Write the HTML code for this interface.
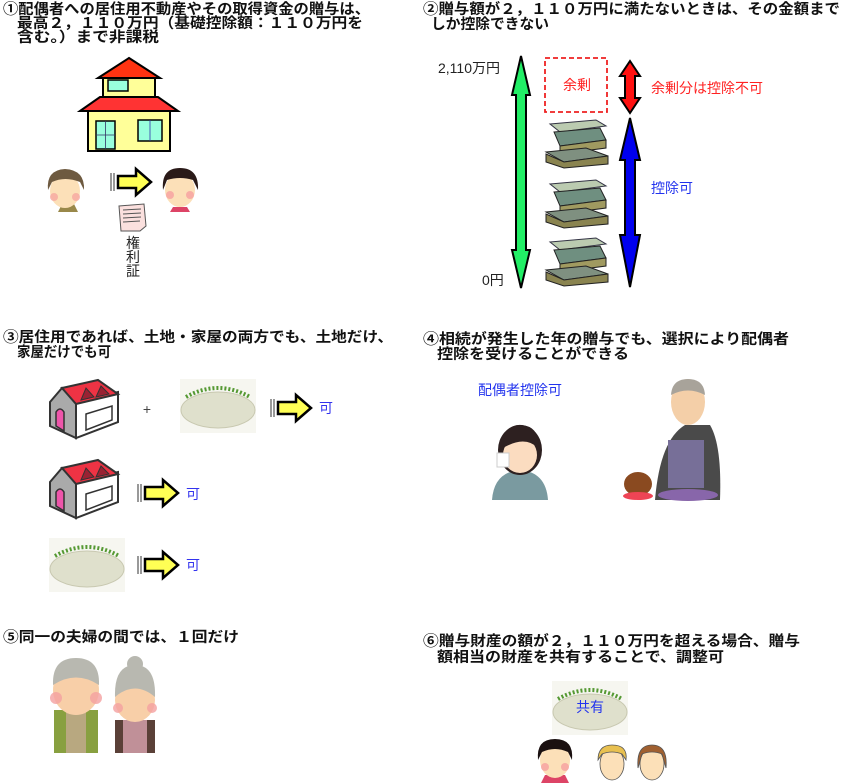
<!DOCTYPE html>
<html><head><meta charset="utf-8"><style>
html,body{margin:0;padding:0;background:#fff;}
svg{display:block;}
.t{font-family:"Liberation Sans","Noto Sans CJK JP",sans-serif;font-weight:bold;font-size:14.5px;fill:#111;}
.n{font-family:"Liberation Sans","Noto Sans CJK JP",sans-serif;font-size:14px;}
</style></head><body>
<svg width="842" height="783" viewBox="0 0 842 783" xmlns="http://www.w3.org/2000/svg">
<defs>
 <g id="arr">
  <line x1="1" y1="4" x2="1" y2="22" stroke="#333" stroke-width="1"/>
  <line x1="4" y1="4" x2="4" y2="22" stroke="#333" stroke-width="1"/>
  <polygon points="8,7 26,7 26,0 41,13 26,26 26,19 8,19" fill="#ffff55" stroke="#000" stroke-width="2.5" stroke-linejoin="miter"/>
 </g>
 <g id="h3">
  <polygon points="2,22 14,8 28,22 28,58 2,46" fill="#aaa" stroke="#333" stroke-width="2"/>
  <path d="M8,46 V32 q4,-6 8,0 V51 Z" fill="#ee55aa" stroke="#333" stroke-width="1.5"/>
  <polygon points="28,22 70,12 70,42 28,58" fill="#fff" stroke="#333" stroke-width="2"/>
  <polygon points="38,34 64,26 64,40 38,50" fill="#fff" stroke="#333" stroke-width="1.5"/>
  <polygon points="14,8 50,0 70,14 28,24" fill="#ee3344" stroke="#333" stroke-width="2"/>
  <polygon points="33,20 38,8 46,17" fill="#992233" stroke="#333" stroke-width="1"/>
  <polygon points="48,17 53,6 61,14" fill="#992233" stroke="#333" stroke-width="1"/>
 </g>
 <g id="land">
  <rect x="0" y="0" width="76" height="54" fill="#f6f6f0"/>
  <ellipse cx="38" cy="31" rx="37" ry="18" fill="#dfe0cc" stroke="#c8c8b0"/>
  <path d="M6,18 Q38,0 70,18" fill="none" stroke="#559933" stroke-width="4" stroke-dasharray="2,2"/>
 </g>
 <g id="money">
  <polygon points="4,6 50,2 60,8 14,14" fill="#bbcbb0" stroke="#334" stroke-width="1"/>
  <polygon points="8,14 54,10 60,22 14,28" fill="#6f8f80" stroke="#222" stroke-width="1"/>
  <polygon points="14,28 60,22 60,30 14,36" fill="#a09a60" stroke="#222" stroke-width="1"/>
  <polygon points="0,34 40,30 62,38 18,44" fill="#7f9080" stroke="#222" stroke-width="1"/>
  <polygon points="0,36 18,44 62,38 62,46 18,50 0,44" fill="#8a8450" stroke="#222" stroke-width="1"/>
 </g>
</defs>

<!-- Titles -->
<text class="t" x="3" y="14" textLength="367" lengthAdjust="spacingAndGlyphs">①配偶者への居住用不動産やその取得資金の贈与は、</text>
<text class="t" x="17" y="28" textLength="346" lengthAdjust="spacingAndGlyphs">最高２，１１０万円（基礎控除額：１１０万円を</text>
<text class="t" x="17" y="42" textLength="142" lengthAdjust="spacingAndGlyphs">含む。）まで非課税</text>

<text class="t" x="423" y="14" textLength="417" lengthAdjust="spacingAndGlyphs">②贈与額が２，１１０万円に満たないときは、その金額まで</text>
<text class="t" x="431" y="29" textLength="118" lengthAdjust="spacingAndGlyphs">しか控除できない</text>

<text class="t" x="3" y="342" textLength="390" lengthAdjust="spacingAndGlyphs">③居住用であれば、土地・家屋の両方でも、土地だけ、</text>
<text class="t" x="17" y="357" textLength="94" lengthAdjust="spacingAndGlyphs">家屋だけでも可</text>

<text class="t" x="423" y="344" textLength="366" lengthAdjust="spacingAndGlyphs">④相続が発生した年の贈与でも、選択により配偶者</text>
<text class="t" x="437" y="359" textLength="192" lengthAdjust="spacingAndGlyphs">控除を受けることができる</text>

<text class="t" x="3" y="642" textLength="236" lengthAdjust="spacingAndGlyphs">⑤同一の夫婦の間では、１回だけ</text>

<text class="t" x="423" y="646" textLength="377" lengthAdjust="spacingAndGlyphs">⑥贈与財産の額が２，１１０万円を超える場合、贈与</text>
<text class="t" x="437" y="662" textLength="287" lengthAdjust="spacingAndGlyphs">額相当の財産を共有することで、調整可</text>

<!-- Section 1 house -->
<polygon points="98,78 129,58 160,78" fill="#ff3311" stroke="#000" stroke-width="2"/>
<rect x="103" y="78" width="52" height="20" fill="#ffff99" stroke="#000" stroke-width="2"/>
<rect x="108" y="80" width="20" height="11" fill="#99ffdd" stroke="#000" stroke-width="1.5"/>
<rect x="88" y="111" width="82" height="40" fill="#ffff99" stroke="#000" stroke-width="2"/>
<polygon points="80,111 100,97 158,97 178,111" fill="#ff3333" stroke="#000" stroke-width="2"/>
<rect x="96" y="121" width="19" height="28" fill="#99ffdd" stroke="#000" stroke-width="1.5"/>
<line x1="105.5" y1="121" x2="105.5" y2="149" stroke="#336" stroke-width="0.8"/>
<line x1="96" y1="135" x2="115" y2="135" stroke="#336" stroke-width="0.8"/>
<rect x="138" y="120" width="24" height="21" fill="#99ffdd" stroke="#000" stroke-width="1.5"/>
<line x1="150" y1="120" x2="150" y2="141" stroke="#33a" stroke-width="0.8"/>

<!-- man face -->
<path d="M58,212 l4,-8 h12 l4,8 Z" fill="#99884a"/>
<ellipse cx="65" cy="191" rx="15" ry="17" fill="#fce0b8"/>
<path d="M48,190 Q46,170 65,169 Q85,170 84,190 L80,182 Q65,176 52,182 Z" fill="#6e5a40"/>
<circle cx="54" cy="197" r="4" fill="#f6a8a0" opacity="0.8"/><circle cx="76" cy="197" r="4" fill="#f6a8a0" opacity="0.8"/>
<!-- arrow 1 -->
<use href="#arr" x="110" y="169"/>
<!-- woman face -->
<path d="M170,212 l3,-5 h14 l3,5 Z" fill="#dd4466"/>
<ellipse cx="180" cy="190" rx="15" ry="17" fill="#fce0b8"/>
<path d="M163,190 Q161,168 180,168 Q199,168 198,190 L193,180 Q180,176 167,180 Z" fill="#2a1a18"/>
<circle cx="170" cy="195" r="4" fill="#f6a0a0" opacity="0.8"/><circle cx="190" cy="195" r="4" fill="#f6a0a0" opacity="0.8"/>
<!-- document -->
<polygon points="119,206 144,204 146,226 140,231 121,231" fill="#fbe0de" stroke="#555" stroke-width="1"/>
<g stroke="#555" stroke-width="1"><line x1="123" y1="210" x2="141" y2="209"/><line x1="123" y1="214" x2="141" y2="213"/><line x1="123" y1="218" x2="141" y2="217"/><line x1="123" y1="222" x2="140" y2="221"/></g>
<text class="n" x="133" y="248" font-size="12" text-anchor="middle" fill="#222">権</text>
<text class="n" x="133" y="262" font-size="12" text-anchor="middle" fill="#222">利</text>
<text class="n" x="133" y="276" font-size="12" text-anchor="middle" fill="#222">証</text>

<!-- Section 2 -->
<text class="n" x="438" y="73" fill="#222">2,110万円</text>
<text class="n" x="482" y="285" fill="#222">0円</text>
<polygon points="521,56 530,95 526,95 526,250 530,250 521,288 512,250 516,250 516,95 512,95" fill="#22ee66" stroke="#000" stroke-width="2"/>
<rect x="545" y="58" width="62" height="54" fill="none" stroke="#ee2222" stroke-width="1.8" stroke-dasharray="5,3"/>
<text class="n" x="563" y="90" fill="#ff2222">余剰</text>
<polygon points="630,61 640,76 635,76 635,98 640,98 630,113 620,98 625,98 625,76 620,76" fill="#ff1111" stroke="#000" stroke-width="2"/>
<text class="n" x="651" y="93" fill="#ff2222" font-size="15">余剰分は控除不可</text>
<use href="#money" x="546" y="118"/>
<use href="#money" x="546" y="178"/>
<use href="#money" x="546" y="236"/>
<polygon points="630,118 640,160 635,160 635,235 640,235 630,287 620,235 625,235 625,160 620,160" fill="#0000ee" stroke="#000" stroke-width="2"/>
<text class="n" x="651" y="193" fill="#2233ee" font-size="15">控除可</text>

<!-- Section 3 -->
<use href="#h3" x="48" y="380"/>
<text class="n" x="147" y="414" fill="#444" font-size="15" text-anchor="middle">+</text>
<use href="#land" x="180" y="379"/>
<use href="#arr" x="270" y="395"/>
<text class="n" x="319" y="413" fill="#3333ee">可</text>
<use href="#h3" x="48" y="460"/>
<use href="#arr" x="137" y="480"/>
<text class="n" x="186" y="499" fill="#3333ee">可</text>
<use href="#land" x="49" y="538"/>
<use href="#arr" x="137" y="552"/>
<text class="n" x="186" y="570" fill="#3333ee">可</text>

<!-- Section 4 -->
<text class="n" x="478" y="395" fill="#2233ee" font-size="15">配偶者控除可</text>
<!-- crying woman -->
<path d="M492,500 Q494,472 520,470 Q546,472 548,500 Z" fill="#7a9aa0"/>
<ellipse cx="520" cy="450" rx="22" ry="25" fill="#2d2020"/>
<ellipse cx="520" cy="455" rx="17" ry="18" fill="#fbdcc0"/>
<path d="M503,448 Q505,423 522,425 Q540,427 538,448 Q525,435 503,448 Z" fill="#2d2020"/>
<rect x="497" y="453" width="12" height="14" fill="#fff" stroke="#ccc"/>
<!-- monk -->
<ellipse cx="688" cy="402" rx="17" ry="23" fill="#f4cfa8"/>
<path d="M671,395 Q672,379 688,379 Q704,379 705,395 Q688,386 671,395 Z" fill="#a8a39a"/>
<path d="M655,500 Q660,440 685,425 L710,425 Q722,445 720,500 Z" fill="#4a4a4a"/>
<rect x="668" y="440" width="36" height="48" fill="#776f98"/>
<ellipse cx="688" cy="495" rx="30" ry="6" fill="#8866aa"/>
<ellipse cx="638" cy="484" rx="14" ry="12" fill="#8a4a20"/>
<ellipse cx="638" cy="496" rx="15" ry="4" fill="#ee4455"/>

<!-- Section 5 elderly couple -->
<rect x="54" y="710" width="44" height="43" fill="#b8a880"/>
<rect x="54" y="710" width="12" height="43" fill="#88a040"/><rect x="86" y="710" width="12" height="43" fill="#88a040"/>
<ellipse cx="76" cy="690" rx="23" ry="25" fill="#f8cfa8"/>
<path d="M53,685 Q52,658 76,658 Q100,658 99,685 Q76,670 53,685 Z" fill="#b8b8b0"/>
<circle cx="56" cy="698" r="6" fill="#f4a0a0" opacity="0.8"/><circle cx="96" cy="698" r="6" fill="#f4a0a0" opacity="0.8"/>
<rect x="115" y="720" width="40" height="33" fill="#c09098"/>
<rect x="115" y="720" width="8" height="33" fill="#5a4038"/><rect x="147" y="720" width="8" height="33" fill="#5a4038"/>
<ellipse cx="135" cy="700" rx="20" ry="22" fill="#f8cfa8"/>
<path d="M115,697 Q114,665 135,665 Q156,665 155,697 Q135,680 115,697 Z" fill="#b8b8b0"/>
<circle cx="135" cy="664" r="8" fill="#b8b8b0"/>
<circle cx="118" cy="708" r="5" fill="#f4a0a0" opacity="0.8"/><circle cx="152" cy="708" r="5" fill="#f4a0a0" opacity="0.8"/>

<!-- Section 6 -->
<use href="#land" x="552" y="681"/>
<text class="n" x="590" y="712" fill="#2233ee" font-size="15" text-anchor="middle">共有</text>
<path d="M541,783 l4,-8 h20 l4,8 Z" fill="#dd4466"/>
<ellipse cx="555" cy="760" rx="15" ry="18" fill="#fce0b8"/>
<path d="M538,760 Q536,739 555,739 Q574,739 572,760 L568,752 Q555,746 542,752 Z" fill="#1a1010"/>
<circle cx="545" cy="767" r="4" fill="#f6a0a0" opacity="0.8"/><circle cx="565" cy="767" r="4" fill="#f6a0a0" opacity="0.8"/>
<ellipse cx="612" cy="764" rx="12" ry="16" fill="#fce0b8" stroke="#555" stroke-width="0.8"/>
<path d="M598,760 Q598,745 612,745 Q628,745 626,760 L622,754 Q612,750 602,754 Z" fill="#e8c050" stroke="#555" stroke-width="0.8"/>
<ellipse cx="652" cy="764" rx="12" ry="16" fill="#fce0b8" stroke="#555" stroke-width="0.8"/>
<path d="M638,768 Q636,745 652,745 Q668,745 666,768 L662,754 Q652,750 642,754 Z" fill="#a06030" stroke="#555" stroke-width="0.8"/>
</svg>
</body></html>
